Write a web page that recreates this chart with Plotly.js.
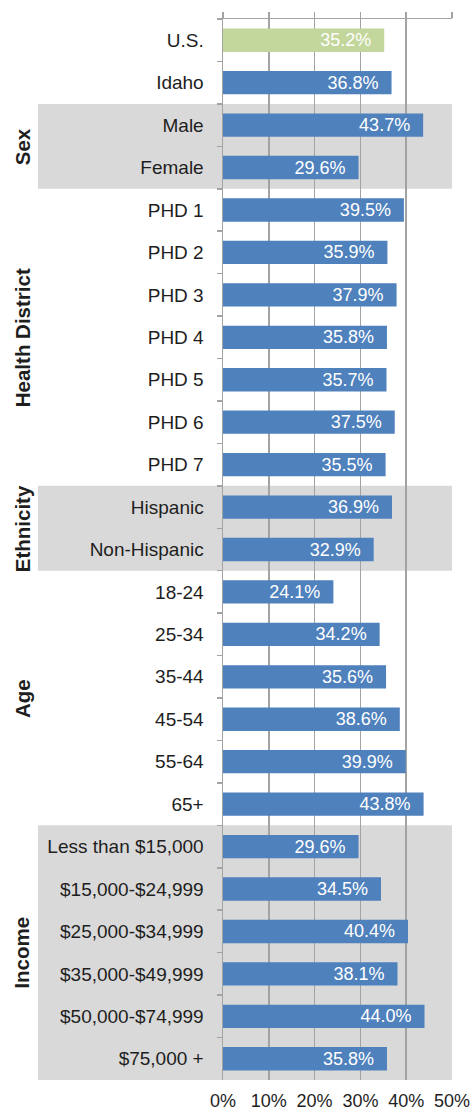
<!DOCTYPE html>
<html>
<head>
<meta charset="utf-8">
<script src="https://cdn.plot.ly/plotly-3.0.1.min.js"></script>
<style>
  html, body { margin: 0; padding: 0; background: #ffffff; }
  #chart { width: 473px; height: 1117px; }
</style>
</head>
<body>
<div id="chart"></div>
<script>
// ---- Data ----
const categories = [
  'U.S.', 'Idaho',
  'Male', 'Female',
  'PHD 1', 'PHD 2', 'PHD 3', 'PHD 4', 'PHD 5', 'PHD 6', 'PHD 7',
  'Hispanic', 'Non-Hispanic',
  '18-24', '25-34', '35-44', '45-54', '55-64', '65+',
  'Less than $15,000', '$15,000-$24,999', '$25,000-$34,999',
  '$35,000-$49,999', '$50,000-$74,999', '$75,000 +'
];
const values = [
  35.2, 36.8,
  43.7, 29.6,
  39.5, 35.9, 37.9, 35.8, 35.7, 37.5, 35.5,
  36.9, 32.9,
  24.1, 34.2, 35.6, 38.6, 39.9, 43.8,
  29.6, 34.5, 40.4, 38.1, 44.0, 35.8
];
const groupNames = ['Sex', 'Health District', 'Ethnicity', 'Age', 'Income'];
const groupFirst = ['Male', 'PHD 1', 'Hispanic', '18-24', 'Less than $15,000'];
const groupLast  = ['Female', 'PHD 7', 'Non-Hispanic', '65+', '$75,000 +'];
const groupShaded = [true, false, true, false, true];
const xTicks = [0, 10, 20, 30, 40, 50];

// ---- Styles ----
const BLUE = '#4f81bd';
const GREEN = '#c3d69b';
const BAND = '#d9d9d9';
const GRID = '#a3a3a3';
const TEXT = '#1e1e1e';
const FONT = 'Liberation Sans, Arial, sans-serif';

const barColors = categories.map(c => c === 'U.S.' ? GREEN : BLUE);
const n = categories.length;

const shapes = [];
const annotations = [];
groupNames.forEach((g, i) => {
  const a = categories.indexOf(groupFirst[i]);
  const b = categories.indexOf(groupLast[i]);
  if (groupShaded[i]) {
    shapes.push({
      type: 'rect', layer: 'below',
      xref: 'paper', yref: 'y',
      x0: -0.808, x1: 1, y0: a - 0.5, y1: b + 0.5,
      fillcolor: BAND, line: { width: 0 }
    });
  }
  annotations.push({
    xref: 'paper', yref: 'y',
    x: -0.878, y: (a + b) / 2,
    text: '<b>' + g + '</b>',
    textangle: -90, showarrow: false,
    xanchor: 'center', yanchor: 'middle',
    font: { family: FONT, size: 20.5, color: TEXT }
  });
});

const traces = [
  {
    type: 'bar', orientation: 'h',
    y: categories, x: values,
    marker: { color: barColors, line: { width: 0 } },
    width: 0.55,
    texttemplate: '%{x:.1f}%\u00a0\u00a0',
    textposition: 'inside',
    insidetextanchor: 'end',
    constraintext: 'none',
    textfont: { family: FONT, size: 18, color: '#ffffff' },
    hoverinfo: 'skip',
    showlegend: false
  },
  {
    type: 'bar', orientation: 'h',
    x: [0], y: [categories[0]],
    xaxis: 'x2', yaxis: 'y',
    marker: { opacity: 0 },
    hoverinfo: 'skip', showlegend: false
  }
];

const layout = {
  width: 473, height: 1117,
  margin: { l: 223, r: 21, t: 19, b: 37, pad: 0 },
  paper_bgcolor: '#ffffff',
  plot_bgcolor: 'rgba(0,0,0,0)',
  showlegend: false,
  barmode: 'overlay',
  font: { family: FONT, color: TEXT },
  xaxis: {
    range: [0, 50],
    tickvals: xTicks,
    ticktext: xTicks.map(v => v + '%'),
    showgrid: true, gridcolor: GRID, gridwidth: 1.5,
    zeroline: false, showline: false,
    ticks: '',
    ticklabelstandoff: 8,
    tickfont: { family: FONT, size: 18, color: TEXT },
    fixedrange: true
  },
  xaxis2: {
    overlaying: 'x', side: 'top',
    range: [0, 50],
    tickvals: xTicks,
    showticklabels: false,
    showgrid: false, zeroline: false,
    showline: true, linecolor: GRID, linewidth: 1.5,
    ticks: 'outside', ticklen: 6, tickcolor: GRID, tickwidth: 1.5
  },
  yaxis: {
    type: 'category',
    categoryorder: 'array', categoryarray: categories,
    range: [n - 0.5, -0.5],
    showline: true, linecolor: GRID, linewidth: 1.5,
    ticks: 'outside', tickson: 'boundaries', ticklen: 5,
    tickcolor: GRID, tickwidth: 1.5,
    showgrid: false, zeroline: false,
    ticklabelstandoff: 14,
    tickfont: { family: FONT, size: 19, color: TEXT }
  },
  bargap: 0.45,
  shapes: shapes,
  annotations: annotations
};

Plotly.newPlot('chart', traces, layout, { displayModeBar: false, staticPlot: true });
</script>
</body>
</html>
